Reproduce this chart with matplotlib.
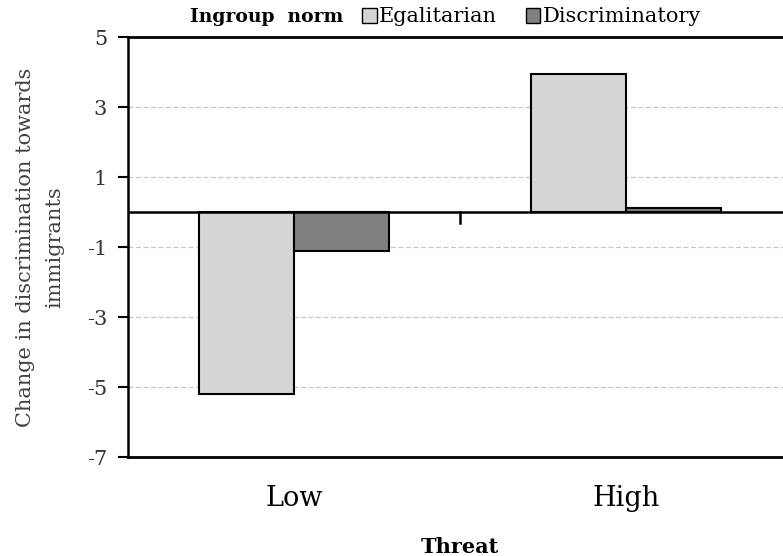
import numpy as np
import matplotlib.pyplot as plt
from matplotlib.patches import Patch

threat = ["Low", "High"]
egalitarian = [-5.2, 3.95]
discriminatory = [-1.1, 0.12]
yticks = [5, 3, 1, -1, -3, -5, -7]

plt.rcParams['font.family'] = ['DejaVu Serif']

fig = plt.figure(figsize=(7.83, 5.56), dpi=100)
ax = fig.add_axes([0.1635, 0.178, 0.848, 0.7554])

x = np.arange(len(threat))
w = 0.287
c_egal = '#d6d6d6'
c_disc = '#808080'
ax.bar(x - w / 2, egalitarian, w, color=c_egal, edgecolor='black', linewidth=1.5, zorder=3)
ax.bar(x + w / 2, discriminatory, w, color=c_disc, edgecolor='black', linewidth=1.5, zorder=3)

ax.set_xlim(-0.5, 1.5)
ax.set_ylim(-7, 5)
ax.set_yticks(yticks)
ax.set_yticklabels([str(v) for v in yticks], fontsize=15, color='#333333')
ax.set_xticks(x)
ax.set_xticklabels(threat, fontsize=19.5)
ax.tick_params(axis='x', length=0, pad=20)
ax.tick_params(axis='y', length=7, width=1.5, direction='out', pad=8)

for v in [3, 1, -1, -3, -5]:
    ax.axhline(v, color='#c8c8c8', linestyle=(0, (4, 2)), linewidth=0.9, zorder=1)
ax.axhline(0, color='black', linewidth=1.8, zorder=4)
ax.plot([0.5, 0.5], [0, -0.3], color='black', linewidth=1.8, zorder=4)

for s in ['top', 'bottom']:
    ax.spines[s].set_linewidth(2)
ax.spines['left'].set_linewidth(1.8)
ax.spines['right'].set_visible(False)

ax.set_xlabel("Threat", fontsize=15, fontweight='bold', labelpad=18)
ax.set_ylabel("Change in discrimination towards\nimmigrants", fontsize=15,
              color='#404040', labelpad=16, linespacing=1.7)

fig.text(190 / 783, 1 - 17 / 556, "Ingroup  norm", fontsize=13.5, fontweight='bold',
         ha='left', va='center')
handles = [Patch(facecolor=c_egal, edgecolor='black', linewidth=1),
           Patch(facecolor=c_disc, edgecolor='black', linewidth=1)]
fig.legend(handles, ["Egalitarian", "Discriminatory"], loc='center left',
           bbox_to_anchor=(362 / 783, 1 - 17 / 556), ncol=2, frameon=False,
           fontsize=15, handlelength=0.7, handleheight=0.7, handletextpad=0.1,
           columnspacing=1.4, borderaxespad=0, borderpad=0)

fig.savefig("out.png", dpi=100)
